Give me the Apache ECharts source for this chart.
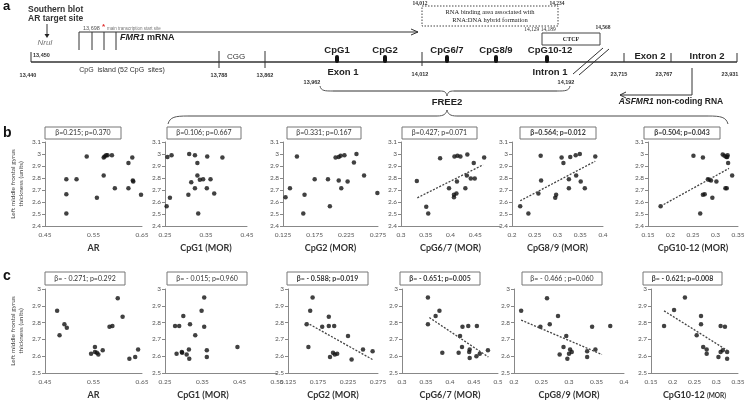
<!DOCTYPE html>
<html>
<head>
<meta charset="utf-8">
<script src="https://cdn.jsdelivr.net/npm/echarts@6/dist/echarts.min.js"></script>
<style>
html, body { margin: 0; padding: 0; background: #fff; }
#chart { width: 747px; height: 401px; }
</style>
</head>
<body>
<div id="chart"></div>
<script>
// axis titles, stats and tick labels
var xNames = ['AR', 'CpG1 (MOR)', 'CpG2 (MOR)', 'CpG6/7 (MOR)', 'CpG8/9 (MOR)', 'CpG10-12 (MOR)'];
var statsB = ['β=0.215; p=0.370', 'β=0.106; p=0.667', 'β=0.331; p=0.167', 'β=0.427; p=0.071', 'β=0.564; p=0.012', 'β=0.504; p=0.043'];
var statsC = ['β= - 0.271; p=0.292', 'β= - 0.015; p=0.960', 'β= - 0.588; p=0.019', 'β= - 0.651; p=0.005', 'β= - 0.466 ; p=0.060', 'β= - 0.621; p=0.008'];
var boldB = [false, false, false, false, true, true];
var boldC = [false, false, true, true, false, true];

var xTicksB = [['0.45', '0.55', '0.65'], ['0.25', '0.35', '0.45'], ['0.125', '0.175', '0.225', '0.275'],
    ['0.3', '0.35', '0.4', '0.45'], ['0.2', '0.25', '0.3', '0.35', '0.4'], ['0.15', '0.2', '0.25', '0.3', '0.35']];
var xTicksC = [['0.45', '0.55', '0.65'], ['0.25', '0.35', '0.45', '0.55'], ['0.125', '0.175', '0.225', '0.275'],
    ['0.3', '0.35', '0.4', '0.45', '0.5'], ['0.2', '0.25', '0.3', '0.35', '0.4'], ['0.15', '0.2', '0.25', '0.3', '0.35']];
var xMaxB = [0.65, 0.45, 0.275, 0.5, 0.4, 0.35];
var xMaxC = [0.65, 0.55, 0.275, 0.5, 0.4, 0.35];
var yRangeB = [2.4, 3.1];
var yRangeC = [2.5, 3.0];

// row b: thickness vs methylation
var bAR = [[0.494, 2.79], [0.494, 2.665], [0.494, 2.505], [0.515, 2.79], [0.536, 2.98], [0.557, 2.635], [0.571, 2.82],
    [0.571, 2.97], [0.573, 2.98], [0.576, 2.99], [0.579, 2.99], [0.588, 2.99], [0.594, 2.715], [0.622, 2.715],
    [0.622, 2.925], [0.63, 2.97], [0.631, 2.78], [0.632, 2.77], [0.648, 2.66]];
var bCpG1 = [[0.256, 2.975], [0.254, 2.565], [0.266, 2.99], [0.309, 3.0], [0.323, 2.99], [0.353, 2.98], [0.39, 2.97],
    [0.329, 2.925], [0.329, 2.82], [0.335, 2.785], [0.314, 2.765], [0.343, 2.79], [0.361, 2.79], [0.323, 2.715],
    [0.352, 2.715], [0.37, 2.67], [0.307, 2.66], [0.262, 2.635], [0.331, 2.505]];
var bCpG2 = [[0.129, 2.64], [0.136, 2.715], [0.147, 2.98], [0.157, 2.505], [0.159, 2.66], [0.175, 2.79], [0.196, 2.79],
    [0.199, 2.565], [0.208, 2.97], [0.213, 2.975], [0.216, 2.985], [0.213, 2.78], [0.217, 2.715], [0.222, 2.99],
    [0.227, 2.77], [0.237, 2.93], [0.241, 3.0], [0.253, 2.82], [0.274, 2.675]];
var bCpG67 = [[0.332, 2.775], [0.351, 2.56], [0.355, 2.505], [0.379, 2.965], [0.397, 2.715], [0.407, 2.66], [0.407, 2.64],
    [0.408, 2.98], [0.414, 2.985], [0.42, 2.98], [0.412, 2.67], [0.413, 2.77], [0.43, 2.715], [0.434, 2.995],
    [0.433, 2.82], [0.441, 2.795], [0.447, 2.925], [0.449, 2.795], [0.468, 2.97]];
var bCpG89 = [[0.218, 2.565], [0.236, 2.505], [0.258, 2.67], [0.263, 2.985], [0.264, 2.78], [0.295, 2.635], [0.297, 2.66],
    [0.309, 2.97], [0.313, 2.925], [0.325, 2.715], [0.325, 2.79], [0.328, 2.975], [0.34, 2.99], [0.341, 2.82],
    [0.349, 3.0], [0.351, 2.77], [0.36, 2.715], [0.383, 2.98]];
var bCpG1012 = [[0.178, 2.565], [0.251, 2.985], [0.266, 2.505], [0.272, 2.97], [0.272, 2.66], [0.276, 2.665], [0.283, 2.79],
    [0.286, 2.785], [0.29, 2.78], [0.293, 2.635], [0.302, 2.77], [0.316, 2.995], [0.32, 2.985], [0.322, 2.715],
    [0.325, 2.715], [0.324, 2.975], [0.327, 2.99], [0.326, 2.975], [0.328, 2.925], [0.337, 2.82]];

// row c
var cAR = [[0.475, 2.87], [0.48, 2.725], [0.49, 2.79], [0.495, 2.77], [0.545, 2.615], [0.553, 2.655], [0.553, 2.625],
    [0.557, 2.62], [0.56, 2.61], [0.569, 2.635], [0.583, 2.775], [0.589, 2.78], [0.6, 2.945], [0.61, 2.835],
    [0.624, 2.585], [0.636, 2.595], [0.642, 2.64]];
var cCpG1 = [[0.277, 2.78], [0.288, 2.78], [0.299, 2.84], [0.317, 2.79], [0.348, 2.87], [0.355, 2.95], [0.355, 2.775],
    [0.331, 2.725], [0.281, 2.615], [0.295, 2.625], [0.296, 2.62], [0.308, 2.61], [0.314, 2.64], [0.315, 2.585],
    [0.362, 2.635], [0.362, 2.595], [0.444, 2.655]];
var cCpG2 = [[0.156, 2.79], [0.159, 2.655], [0.162, 2.87], [0.166, 2.95], [0.182, 2.775], [0.193, 2.835], [0.193, 2.78],
    [0.195, 2.595], [0.2, 2.62], [0.202, 2.78], [0.203, 2.61], [0.207, 2.615], [0.225, 2.72], [0.231, 2.58],
    [0.25, 2.64], [0.266, 2.63]];
var cCpG67 = [[0.354, 2.95], [0.354, 2.79], [0.37, 2.84], [0.378, 2.87], [0.384, 2.62], [0.418, 2.62], [0.421, 2.72],
    [0.425, 2.655], [0.426, 2.775], [0.438, 2.78], [0.44, 2.625], [0.441, 2.64], [0.441, 2.59], [0.455, 2.6],
    [0.456, 2.78], [0.462, 2.615], [0.479, 2.635]];
var cCpG89 = [[0.213, 2.87], [0.248, 2.775], [0.26, 2.945], [0.265, 2.79], [0.28, 2.84], [0.283, 2.61], [0.29, 2.655],
    [0.295, 2.72], [0.297, 2.585], [0.3, 2.615], [0.302, 2.64], [0.305, 2.625], [0.333, 2.63], [0.333, 2.595],
    [0.342, 2.775], [0.348, 2.64], [0.375, 2.78]];
var cCpG1012 = [[0.18, 2.78], [0.203, 2.875], [0.228, 2.95], [0.255, 2.725], [0.265, 2.84], [0.265, 2.79], [0.27, 2.655],
    [0.278, 2.64], [0.278, 2.615], [0.305, 2.595], [0.31, 2.625], [0.31, 2.78], [0.315, 2.635], [0.32, 2.775],
    [0.325, 2.625], [0.325, 2.585]];

// fitted lines (end points)
var trendB = [null, null, null, [[0.333, 2.635], [0.466, 2.91]], [[0.218, 2.61], [0.383, 2.94]], [[0.178, 2.565], [0.33, 2.88]]];
var trendC = [null, null, [[0.156, 2.8], [0.266, 2.58]], [[0.357, 2.83], [0.48, 2.595]], [[0.213, 2.815], [0.36, 2.61]], [[0.18, 2.87], [0.325, 2.635]]];

var rowsB = [bAR, bCpG1, bCpG2, bCpG67, bCpG89, bCpG1012];
var rowsC = [cAR, cCpG1, cCpG2, cCpG67, cCpG89, cCpG1012];

// plot boxes [left, width]
var gridB = [[45, 97], [165, 82], [283, 95], [401, 99], [512, 91], [648, 90]];
var gridC = [[45, 97], [165, 112], [288, 90], [402, 96], [514, 110], [651, 87]];
var boxB = [[45, 76], [167, 74], [287, 74], [402, 75], [520, 76], [644, 76]];
var boxC = [[45, 80], [167, 80], [287, 81], [400, 80], [522, 80], [643, 79]];
var nameShiftC = [0, -18, 0, 0, 0, 0];

var FONT = 'Lato, "Open Sans", sans-serif';
var SANS = '"Liberation Sans", Arial, sans-serif';
var NARROW = '"Liberation Sans Narrow", "Liberation Sans", sans-serif';
var SERIF = '"Liberation Serif", serif';

var grids = [], xAxes = [], yAxes = [], series = [], graphics = [];

function labelFmt(ticks) {
    return function (v) {
        for (var k = 0; k < ticks.length; k++) {
            if (Math.abs(v - parseFloat(ticks[k])) < 1e-6) return ticks[k];
        }
        return '';
    };
}

function addRow(top, height, rows, grid, ticks, xMax, yRange, trends, stats, bold, boxes, boxTop, boxH, shift) {
    for (var i = 0; i < 6; i++) {
        var idx = grids.length;
        grids.push({ left: grid[i][0], top: top, width: grid[i][1], height: height, outerBoundsMode: 'none' });
        var min = parseFloat(ticks[i][0]);
        var step = parseFloat(ticks[i][1]) - min;
        var r = min / step;
        var interval = Math.abs(r - Math.round(r)) < 1e-6 ? step : step / 2;
        var small = i === 5 && rows === rowsC;
        var nameStyle = {
            fontFamily: FONT, fontWeight: 'bold', fontSize: 9, color: '#333',
            padding: shift && shift[i] ? [0, -2 * shift[i], 0, 0] : 0
        };
        if (small) nameStyle.rich = { s: { fontFamily: FONT, fontWeight: 'bold', fontSize: 6.5, color: '#333' } };
        xAxes.push({
            type: 'value', gridIndex: idx, min: min, max: xMax[i], interval: interval,
            name: small ? 'CpG10-12 {s|(MOR)}' : xNames[i], nameLocation: 'middle', nameGap: 18,
            nameTextStyle: nameStyle,
            axisLine: { lineStyle: { color: '#888', width: 1 } },
            axisTick: { show: false },
            splitLine: { show: false },
            axisLabel: { formatter: labelFmt(ticks[i]), fontFamily: FONT, fontSize: 6.5, color: '#555', margin: 5 }
        });
        yAxes.push({
            type: 'value', gridIndex: idx, min: yRange[0], max: yRange[1], interval: 0.1,
            name: i === 0 ? 'Left middle frontal gyrus\nthickness (units)' : '',
            nameLocation: 'middle', nameRotate: 90, nameGap: 20,
            nameTextStyle: { fontFamily: FONT, fontSize: 6.5, lineHeight: 8, color: '#444' },
            axisLine: { show: true, lineStyle: { color: '#888', width: 1 } },
            axisTick: { show: true, length: 3, lineStyle: { color: '#888' } },
            splitLine: { show: false },
            axisLabel: { fontFamily: FONT, fontSize: 6.5, color: '#555', margin: 4 }
        });
        series.push({
            type: 'scatter', xAxisIndex: idx, yAxisIndex: idx, data: rows[i],
            symbol: 'circle', symbolSize: 4.5, itemStyle: { color: '#111' }, silent: true
        });
        if (trends[i]) {
            series.push({
                type: 'line', xAxisIndex: idx, yAxisIndex: idx, data: trends[i], symbol: 'none',
                lineStyle: { type: [2, 1.5], width: 1.3, color: '#444' }, silent: true
            });
        }
        graphics.push({
            type: 'rect', shape: { x: boxes[i][0], y: boxTop, width: boxes[i][1], height: boxH },
            style: { fill: '#fff', stroke: '#777', lineWidth: 1 }
        });
        graphics.push({
            type: 'text', x: boxes[i][0] + boxes[i][1] / 2, y: boxTop + boxH / 2,
            style: {
                text: stats[i], align: 'center', verticalAlign: 'middle', fill: '#333',
                font: (bold[i] ? 'bold ' : '') + '7px ' + FONT
            }
        });
    }
}

addRow(142, 84, rowsB, gridB, xTicksB, xMaxB, yRangeB, trendB, statsB, boldB, boxB, 127, 12, null);
addRow(289, 84, rowsC, gridC, xTicksC, xMaxC, yRangeC, trendC, statsC, boldC, boxC, 272, 13, nameShiftC);

// ---- panel a: gene map drawn as annotation ----
function txt(x, y, s, font, align, color, rich) {
    var st = { text: s, font: font, align: align || 'center', verticalAlign: 'middle', fill: color || '#222' };
    if (rich) st.rich = rich;
    graphics.push({ type: 'text', x: x, y: y, style: st });
}
function seg(x1, y1, x2, y2, w, dash) {
    graphics.push({
        type: 'line', shape: { x1: x1, y1: y1, x2: x2, y2: y2 },
        style: { stroke: '#333', lineWidth: w || 1, lineDash: dash || null }
    });
}
function poly(points, w) {
    graphics.push({ type: 'polyline', shape: { points: points }, style: { stroke: '#333', lineWidth: w || 1, fill: null } });
}
function curve(x1, y1, c1x, c1y, c2x, c2y, x2, y2) {
    graphics.push({
        type: 'bezierCurve', shape: { x1: x1, y1: y1, cpx1: c1x, cpy1: c1y, cpx2: c2x, cpy2: c2y, x2: x2, y2: y2 },
        style: { stroke: '#555', lineWidth: 1, fill: null }
    });
}

txt(3, 6, 'a', 'bold 13px ' + SANS, 'left', '#111');
txt(3, 133, 'b', 'bold 14px ' + SANS, 'left', '#111');
txt(3, 276, 'c', 'bold 14px ' + SANS, 'left', '#111');

txt(28, 10, 'Southern blot', 'bold 8.5px ' + SANS, 'left', '#333');
txt(28, 19, 'AR target site', 'bold 8.5px ' + SANS, 'left', '#333');
seg(47, 24, 47, 35, 1);
graphics.push({ type: 'polygon', shape: { points: [[44.5, 34], [49.5, 34], [47, 38]] }, style: { fill: '#222' } });
txt(45, 43, 'NruI', 'italic 8px ' + SANS, 'center', '#777');
txt(33, 55, '13,450', 'bold 5.5px ' + NARROW, 'left', '#333');
seg(31, 52, 31, 62, 1);
seg(31, 62, 737, 62, 1.3);
txt(28, 75, '13,440', 'bold 5.5px ' + NARROW, 'center', '#333');

// FMR1 mRNA
poly([[79, 50], [79, 32], [418, 32]], 1);
poly([[411, 29], [418, 32], [411, 35]], 1);
seg(92, 32, 92, 50, 1);
seg(104, 32, 104, 50, 1);
seg(116, 32, 116, 50, 1);
txt(83, 28, '13,698', '5.5px ' + NARROW, 'left', '#555');
txt(103.5, 26.5, '*', 'bold 8px ' + SANS, 'center', '#e03030');
txt(107, 29, 'main transcription start site', '4.5px ' + SANS, 'left', '#777');
txt(120, 38, '{i|FMR1} mRNA', 'bold 9px ' + SANS, 'left', '#222', { i: { font: 'italic bold 9px ' + SANS, fill: '#222' } });

txt(236, 57, 'CGG', '8px ' + SANS, 'center', '#333');
seg(219, 51, 219, 68, 1);
seg(265, 51, 265, 68, 1);
txt(219, 75, '13,788', 'bold 5.5px ' + NARROW, 'center', '#333');
txt(265, 75, '13,862', 'bold 5.5px ' + NARROW, 'center', '#333');
txt(122, 70, 'CpG  island (52 CpG  sites)', '7px ' + SANS, 'center', '#333');

// CpG sites
var cpgX = [337, 385, 447, 496, 547];
var cpgLab = ['CpG1', 'CpG2', 'CpG6/7', 'CpG8/9', 'CpG10-12'];
for (var k = 0; k < cpgX.length; k++) {
    txt(cpgX[k] + (k === 4 ? 3 : 0), 50, cpgLab[k], 'bold 9.5px ' + SANS, 'center', '#222');
    graphics.push({ type: 'rect', shape: { x: cpgX[k] - 2, y: 55, width: 4, height: 8, r: 2 }, style: { fill: '#111' } });
}
seg(422, 52, 422, 66, 1);
txt(420, 74, '14,012', 'bold 5.5px ' + NARROW, 'center', '#333');
txt(343, 72, 'Exon 1', 'bold 9.5px ' + SANS, 'center', '#222');
txt(312, 82, '13,962', 'bold 5.5px ' + NARROW, 'center', '#333');
txt(550, 72, 'Intron 1', 'bold 9.5px ' + SANS, 'center', '#222');
txt(566, 82, '14,192', 'bold 5.5px ' + NARROW, 'center', '#333');

// braces
curve(320, 86, 321, 91, 325, 91, 333, 91);
seg(333, 91, 440, 91, 1);
curve(440, 91, 445, 91, 446, 92, 447, 96);
curve(447, 96, 448, 92, 449, 91, 454, 91);
seg(454, 91, 557, 91, 1);
curve(557, 91, 565, 91, 569, 91, 570, 86);
txt(447, 102, 'FREE2', 'bold 9.5px ' + SANS, 'center', '#222');

curve(168, 124, 170, 117, 175, 116, 188, 116);
seg(188, 116, 437, 116, 0.9);
curve(437, 116, 444, 116, 446, 114, 447, 110);
curve(447, 110, 448, 114, 450, 116, 457, 116);
seg(457, 116, 708, 116, 0.9);
curve(708, 116, 721, 116, 726, 117, 728, 124);

// RNA binding area + CTCF
graphics.push({
    type: 'rect', shape: { x: 422, y: 6, width: 136, height: 20 },
    style: { fill: null, stroke: '#444', lineWidth: 1, lineDash: [1.5, 1.5] }
});
txt(490, 12.5, 'RNA binding area associated with', '6.5px ' + SERIF, 'center', '#222');
txt(490, 20, 'RNA:DNA hybrid formation', '6.5px ' + SERIF, 'center', '#222');
txt(420, 3.5, '14,012', 'bold 5.5px ' + SERIF, 'center', '#333');
txt(557, 4, '14,234', 'bold 5.5px ' + SERIF, 'center', '#333');
txt(540, 29.5, '14,129 14,189', '5.5px ' + SERIF, 'center', '#333');
txt(603, 28, '14,568', 'bold 5.5px ' + SERIF, 'center', '#333');
graphics.push({ type: 'rect', shape: { x: 542, y: 33, width: 58, height: 12 }, style: { fill: '#fff', stroke: '#444', lineWidth: 1 } });
txt(571, 39, 'CTCF', 'bold 6px ' + SERIF, 'center', '#222');

// break marks
seg(573, 74, 603, 48, 1);
seg(579, 75, 609, 49, 1);

// right part
seg(624, 53, 624, 62, 1);
seg(671, 53, 671, 62, 1);
seg(737, 53, 737, 62, 1);
txt(650, 56, 'Exon 2', 'bold 9.5px ' + SANS, 'center', '#222');
txt(707, 56, 'Intron 2', 'bold 9.5px ' + SANS, 'center', '#222');
txt(619, 74, '23,715', 'bold 5.5px ' + NARROW, 'center', '#333');
txt(664, 74, '23,767', 'bold 5.5px ' + NARROW, 'center', '#333');
txt(730, 74, '23,931', 'bold 5.5px ' + NARROW, 'center', '#333');
poly([[692, 68], [692, 95], [620, 95]], 1);
poly([[626, 92], [620, 95], [626, 98]], 1);
txt(671, 102, '{i|ASFMR1} non-coding RNA', 'bold 8.5px ' + SANS, 'center', '#222', { i: { font: 'italic bold 8.5px ' + SANS, fill: '#222' } });

var chart = echarts.init(document.getElementById('chart'));
chart.setOption({
    animation: false,
    backgroundColor: '#fff',
    grid: grids,
    xAxis: xAxes,
    yAxis: yAxes,
    series: series,
    graphic: { elements: graphics }
});
</script>
</body>
</html>
